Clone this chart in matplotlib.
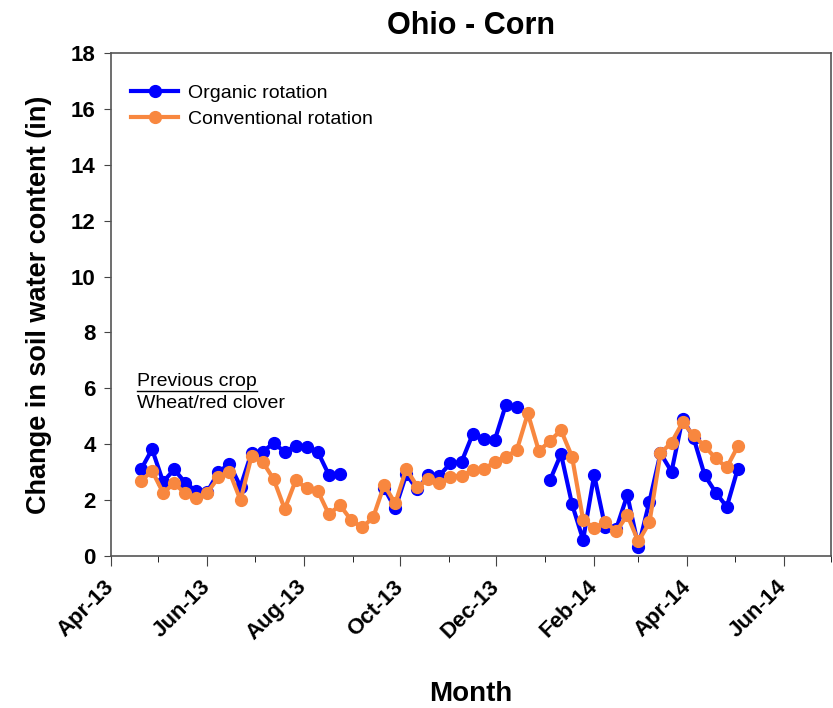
import numpy as np
import pandas as pd
import matplotlib
matplotlib.use("Agg")
import matplotlib.pyplot as plt
import matplotlib.dates as mdates

plt.rcParams['font.family'] = ['Liberation Sans', 'DejaVu Sans']

# weekly readings, Ohio corn plots
dates = pd.date_range('2013-04-20', periods=55, freq='7D')

organic = [3.10, 3.82, 2.65, 3.10, 2.62, 2.32, 2.30, 3.00, 3.30, 2.48,
           3.70, 3.72, 4.05, 3.72, 3.95, 3.90, 3.72, 2.90, 2.95, np.nan,
           np.nan, np.nan, 2.42, 1.70, 2.92, 2.38, 2.90, 2.88, 3.32, 3.37,
           4.35, 4.17, 4.14, 5.40, 5.33, np.nan, np.nan, 2.71, 3.65, 1.85,
           0.58, 2.90, 1.03, 0.98, 2.18, 0.33, 1.95, 3.68, 3.02, 4.92,
           4.22, 2.89, 2.27, 1.76, 3.13]

conventional = [2.68, 3.05, 2.26, 2.60, 2.24, 2.06, 2.27, 2.81, 3.01, 2.00,
                3.57, 3.37, 2.75, 1.68, 2.71, 2.42, 2.32, 1.49, 1.82, 1.29,
                1.02, 1.38, 2.54, 1.88, 3.12, 2.48, 2.74, 2.60, 2.84, 2.88,
                3.07, 3.10, 3.37, 3.55, 3.79, 5.10, 3.75, 4.12, 4.50, 3.55,
                1.29, 1.00, 1.22, 0.88, 1.46, 0.52, 1.20, 3.68, 4.06, 4.78,
                4.32, 3.93, 3.49, 3.17, 3.93]

blue = '#0000FF'
orange = '#F8873F'

fig = plt.figure(figsize=(8.33, 7.08), dpi=100)
ax = fig.add_axes([0.1333, 0.2147, 0.8643, 0.7104])

ax.plot(dates, organic, color=blue, lw=3, marker='o', ms=8.5,
        label='Organic rotation', zorder=3)
ax.plot(dates, conventional, color=orange, lw=3, marker='o', ms=8.5,
        label='Conventional rotation', zorder=4)

ax.set_xlim(pd.Timestamp('2013-04-01'), pd.Timestamp('2014-07-01'))
ax.set_ylim(0, 18)
ax.set_yticks(np.arange(0, 19, 2))

ax.xaxis.set_major_locator(mdates.MonthLocator(bymonth=[2, 4, 6, 8, 10, 12]))
ax.xaxis.set_minor_locator(mdates.MonthLocator())
ax.xaxis.set_major_formatter(mdates.DateFormatter('%b-%y'))

ax.tick_params(axis='both', labelsize=16, direction='out', color='#444444')
ax.tick_params(axis='x', which='major', length=7, pad=13)
ax.tick_params(axis='x', which='minor', length=4)
ax.tick_params(axis='y', length=5, pad=6)

for lab in ax.get_xticklabels():
    lab.set_rotation(45)
    lab.set_ha('right')
    lab.set_va('center')
    lab.set_rotation_mode('anchor')
for lab in ax.get_xticklabels() + ax.get_yticklabels():
    lab.set_fontweight('bold')

for sp in ax.spines.values():
    sp.set_color('#555555')
    sp.set_linewidth(1.2)

ax.set_title('Ohio - Corn', fontsize=22, fontweight='bold', pad=14)
ax.set_ylabel('Change in soil water content (in)', fontsize=19.5,
              fontweight='bold', labelpad=14)
ax.set_xlabel('Month', fontsize=20, fontweight='bold', labelpad=26)

ax.legend(loc='upper left', bbox_to_anchor=(-0.004, 0.985), frameon=False,
          fontsize=14, handlelength=2.4, handletextpad=0.5,
          labelspacing=0.45, borderaxespad=0.8)

ax.text(0.036, 0.347, 'Previous crop', transform=ax.transAxes,
        fontsize=14, va='center', ha='left')
ax.plot([0.036, 0.2027], [0.329, 0.329], transform=ax.transAxes,
        color='black', lw=1)
ax.text(0.036, 0.303, 'Wheat/red clover', transform=ax.transAxes,
        fontsize=14, va='center', ha='left')

fig.savefig('out.png', dpi=100)
